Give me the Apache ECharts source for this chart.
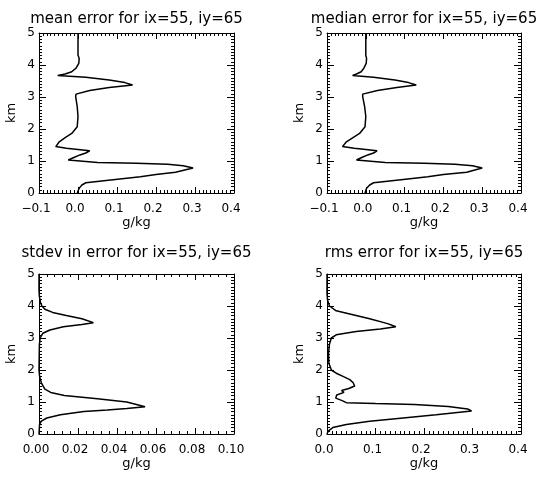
<!DOCTYPE html>
<html><head><meta charset="utf-8">
<script src="https://cdn.jsdelivr.net/npm/echarts@6/dist/echarts.min.js"></script>
<style>html,body{margin:0;padding:0;background:#fff}#c{width:540px;height:478px;background:#fff}</style>
</head><body><div id="c"></div>
<script>
const titles = ['mean error for ix=55, iy=65', 'median error for ix=55, iy=65', 'stdev in error for ix=55, iy=65', 'rms error for ix=55, iy=65'];
const yTickLabels = ['0', '1', '2', '3', '4', '5'];
const xTickLabelsBias = ['\u22120.1', '0.0', '0.1', '0.2', '0.3', '0.4'];
const xTickLabelsStdev = ['0.00', '0.02', '0.04', '0.06', '0.08', '0.10'];
const xTickLabelsRms = ['0.0', '0.1', '0.2', '0.3', '0.4'];

const heightMean = [5.0, 4.5, 4.31, 4.2, 4.05, 3.9, 3.79, 3.72, 3.67, 3.62, 3.53, 3.45, 3.375, 3.3, 3.2, 3.09, 3.01, 2.7, 2.39, 2.07, 1.86, 1.74, 1.6, 1.45, 1.4, 1.36, 1.32, 1.25, 1.19, 1.1, 1.03, 0.97, 0.95, 0.93, 0.9, 0.85, 0.78, 0.72, 0.65, 0.58, 0.51, 0.41, 0.32, 0.25, 0.15, 0.0];
const meanErr = [0.0, 0.0, 0.0, 0.003, 0.002, -0.005, -0.016, -0.033, -0.052, 0.02, 0.08, 0.12, 0.14, 0.08, 0.03, -0.005, -0.006, -0.002, 0.0, -0.002, -0.016, -0.032, -0.048, -0.057, -0.03, 0.0, 0.03, 0.02, 0.005, -0.012, -0.025, -0.03, 0.05, 0.15, 0.23, 0.27, 0.295, 0.298, 0.25, 0.2, 0.16, 0.084, 0.02, 0.01, 0.003, -0.002];

const heightMedian = [5.0, 4.5, 4.31, 4.2, 4.05, 3.9, 3.79, 3.72, 3.67, 3.62, 3.53, 3.45, 3.375, 3.3, 3.2, 3.09, 3.01, 2.7, 2.39, 2.07, 1.86, 1.74, 1.6, 1.45, 1.4, 1.36, 1.32, 1.25, 1.19, 1.1, 1.03, 0.97, 0.95, 0.93, 0.9, 0.85, 0.78, 0.72, 0.65, 0.58, 0.51, 0.41, 0.32, 0.25, 0.15, 0.0];
const medianErr = [0.0, 0.0, 0.0, 0.002, 0.001, -0.005, -0.012, -0.024, -0.034, 0.02, 0.075, 0.11, 0.13, 0.08, 0.03, -0.008, -0.008, -0.003, 0.0, -0.002, -0.016, -0.032, -0.05, -0.06, -0.03, 0.0, 0.029, 0.02, 0.005, -0.012, -0.024, -0.028, 0.05, 0.15, 0.23, 0.275, 0.3, 0.305, 0.26, 0.2, 0.16, 0.085, 0.02, 0.01, 0.002, -0.002];

const heightStdev = [5.0, 4.5, 4.3, 4.1, 4.0, 3.9, 3.8, 3.7, 3.6, 3.48, 3.42, 3.35, 3.25, 3.15, 3.0, 2.8, 2.0, 1.8, 1.6, 1.4, 1.3, 1.2, 1.1, 1.0, 0.85, 0.8, 0.75, 0.7, 0.6, 0.5, 0.4, 0.3, 0.0];
const stdevErr = [0.0, 0.0, 0.0002, 0.0008, 0.0015, 0.003, 0.007, 0.014, 0.022, 0.0279, 0.022, 0.0125, 0.0056, 0.002, 0.0006, 0.0002, 0.0, 0.0003, 0.0012, 0.003, 0.006, 0.013, 0.03, 0.045, 0.0544, 0.045, 0.035, 0.023, 0.011, 0.004, 0.0012, 0.0003, 0.0];

const heightRms = [5.0, 4.4, 4.2, 4.0, 3.85, 3.75, 3.6, 3.45, 3.35, 3.28, 3.2, 3.1, 3.0, 2.8, 2.5, 2.2, 2.0, 1.9, 1.8, 1.7, 1.6, 1.5, 1.42, 1.36, 1.3, 1.22, 1.12, 1.05, 0.98, 0.95, 0.92, 0.86, 0.78, 0.72, 0.6, 0.5, 0.4, 0.3, 0.2, 0.1, 0.0];
const rmsErr = [0.0, 0.0, 0.001, 0.005, 0.019, 0.047, 0.088, 0.125, 0.142, 0.11, 0.06, 0.019, 0.009, 0.005, 0.003, 0.004, 0.009, 0.019, 0.033, 0.047, 0.054, 0.057, 0.045, 0.03, 0.035, 0.02, 0.018, 0.03, 0.04, 0.1, 0.18, 0.25, 0.29, 0.298, 0.225, 0.157, 0.088, 0.04, 0.012, 0.003, 0.0];

const FONT = 'DejaVu Sans';
const panels = [
  {grid: {left: 39, top: 33, width: 195, height: 160}, titleY: 19, xmin: -0.1, xmax: 0.4, xint: 0.1, xminor: 10, labels: xTickLabelsBias, h: heightMean, v: meanErr, title: titles[0]},
  {grid: {left: 327, top: 33, width: 194, height: 160}, titleY: 19, xmin: -0.1, xmax: 0.4, xint: 0.1, xminor: 10, labels: xTickLabelsBias, h: heightMedian, v: medianErr, title: titles[1]},
  {grid: {left: 39, top: 274, width: 195, height: 160}, titleY: 253, xmin: 0, xmax: 0.1, xint: 0.02, xminor: 5, labels: xTickLabelsStdev, h: heightStdev, v: stdevErr, title: titles[2]},
  {grid: {left: 327, top: 274, width: 194, height: 160}, titleY: 253, xmin: 0, xmax: 0.4, xint: 0.1, xminor: 10, labels: xTickLabelsRms, h: heightRms, v: rmsErr, title: titles[3]}
];

function makeAxis(i, pos, min, max, interval, minor, withLabels, labels, name) {
  const horiz = (pos === 'bottom' || pos === 'top');
  const a = {type: 'value', gridIndex: i, position: pos, min: min, max: max, interval: interval,
    splitLine: {show: false},
    axisLine: {show: true, onZero: false, lineStyle: {color: '#000'}},
    axisTick: {show: true, inside: true, length: horiz ? 6 : 7, lineStyle: {color: '#000'}},
    minorTick: {show: true, splitNumber: minor, length: 3, lineStyle: {color: '#000'}}};
  if (withLabels) {
    a.axisLabel = {show: true, margin: horiz ? 10 : 4, fontFamily: FONT, fontSize: 12, color: '#000',
      padding: horiz ? [0, 6, 0, 0] : [0, 0, 0, 0],
      formatter: (val) => labels[Math.round((val - min) / interval)]};
    a.name = name; a.nameLocation = 'middle';
    a.nameGap = horiz ? 20 : 21;
    if (!horiz) a.nameRotate = 90;
    a.nameTextStyle = {fontFamily: FONT, fontSize: 13, color: '#000'};
  } else {
    a.axisLabel = {show: true, color: 'rgba(0,0,0,0)', fontSize: 10};
  }
  return a;
}

const grids = [], xAxes = [], yAxes = [], series = [], graphic = [];
panels.forEach((p, i) => {
  grids.push(p.grid);
  graphic.push({type: 'text', x: p.grid.left + p.grid.width / 2, y: p.titleY, silent: true,
    style: {text: p.title, fontFamily: FONT, fontSize: 15, fill: '#000', align: 'center', verticalAlign: 'middle'}});
  xAxes.push(makeAxis(i, 'bottom', p.xmin, p.xmax, p.xint, p.xminor, true, p.labels, 'g/kg'));
  yAxes.push(makeAxis(i, 'left', 0, 5, 1, 10, true, yTickLabels, 'km'));
});
panels.forEach((p, i) => {
  xAxes.push(makeAxis(i, 'top', p.xmin, p.xmax, p.xint, p.xminor, false));
  yAxes.push(makeAxis(i, 'right', 0, 5, 1, 10, false));
});
panels.forEach((p, i) => {
  series.push({type: 'line', xAxisIndex: i, yAxisIndex: i,
    itemStyle: {color: '#000', opacity: 0},
    lineStyle: {color: '#000', width: 1.5}, data: p.h.map((hh, k) => [p.v[k], hh])});
});

const chart = echarts.init(document.getElementById('c'));
chart.setOption({animation: false, graphic: graphic, grid: grids, xAxis: xAxes, yAxis: yAxes, series: series});
</script></body></html>
